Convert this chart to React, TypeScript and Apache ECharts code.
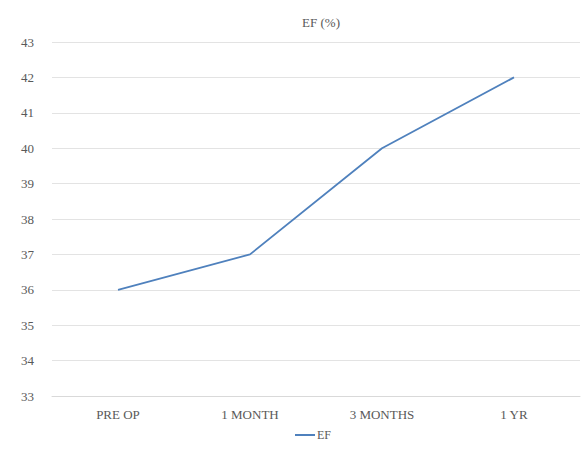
import React, { useEffect, useRef } from "react";
import * as echarts from "echarts";

const categories = ["PRE OP", "1 MONTH", "3 MONTHS", "1 YR"];
const efValues = [36, 37, 40, 42];
const seriesName = "EF";
const chartTitle = "EF (%)";

export default function App() {
  const ref = useRef<HTMLDivElement>(null);
  useEffect(() => {
    document.body.style.margin = "0";
    const chart = echarts.init(ref.current!, null, { renderer: "svg" });
    const font = "Liberation Serif";
    chart.setOption({
      animation: false,
      backgroundColor: "#ffffff",
      title: {
        text: chartTitle,
        left: 316,
        textAlign: "center",
        top: 11,
        textStyle: { fontFamily: font, fontSize: 13, fontWeight: "normal", color: "#595959" },
      },
      legend: {
        data: [seriesName],
        bottom: 6,
        left: 290,
        itemWidth: 20,
        itemHeight: 2,
        icon: "rect",
        textStyle: { fontFamily: font, fontSize: 12, color: "#595959", padding: [0, 0, 0, -3] },
      },
      grid: { left: 52, right: 8, top: 42, bottom: 56, containLabel: false },
      xAxis: {
        type: "category",
        data: categories,
        boundaryGap: true,
        axisLine: { show: true, lineStyle: { color: "#d9d9d9" } },
        axisTick: { show: false },
        axisLabel: { fontFamily: font, fontSize: 13, color: "#595959", margin: 12 },
      },
      yAxis: {
        type: "value",
        min: 33,
        max: 43,
        interval: 1,
        axisLine: { show: false },
        axisTick: { show: false },
        splitLine: { lineStyle: { color: "#e3e3e3" } },
        axisLabel: { fontFamily: font, fontSize: 13, color: "#595959", margin: 18 },
      },
      series: [
        {
          name: seriesName,
          type: "line",
          data: efValues,
          symbol: "none",
          lineStyle: { color: "#4f81bd", width: 1.8 },
          itemStyle: { color: "#4f81bd" },
        },
      ],
    });
    return () => chart.dispose();
  }, []);
  return <div ref={ref} style={{ width: 588, height: 452, position: "absolute", left: 0, top: 0 }} />;
}
